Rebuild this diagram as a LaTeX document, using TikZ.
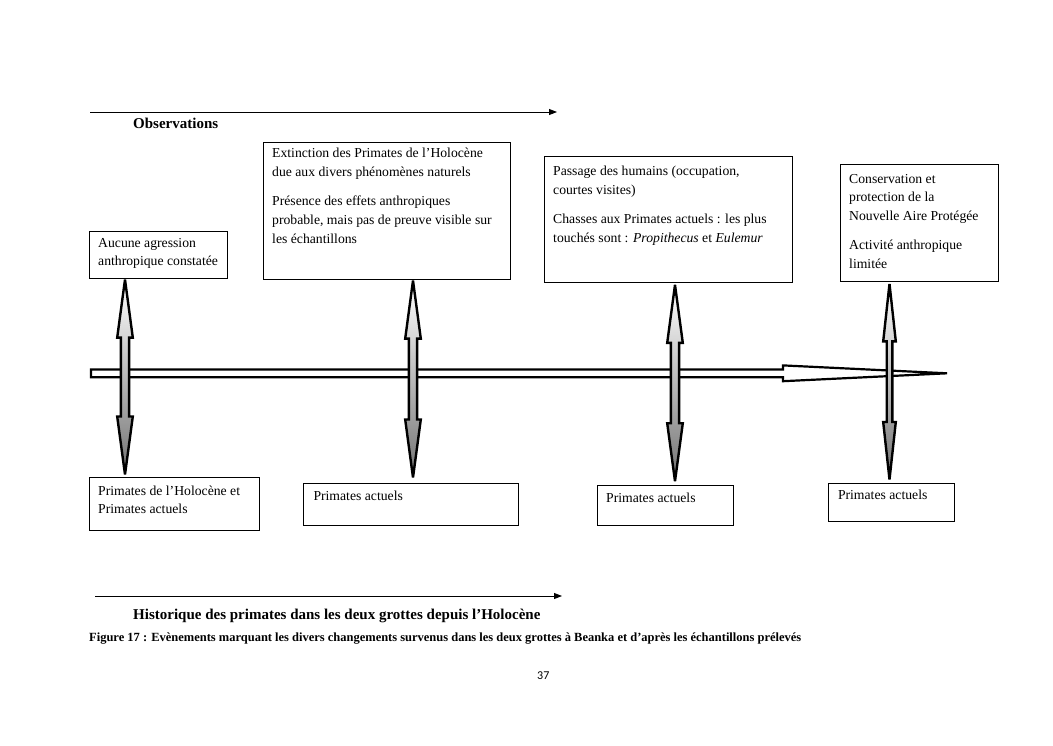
\documentclass[tikz,border=0pt]{standalone}
\usepackage{fontspec}
\usepackage{graphicx}
\setmainfont{Liberation Serif}
\newfontfamily\pagefont{Carlito}
\usetikzlibrary{calc,arrows.meta}

\newcommand\dblarr[5]{% #1 top vertex, #2 bottom vertex, #3 head half width, #4 shaft half width, #5 head length
  \path[dbl] (#1) -- ++(#3,#5) -- ++(#4-#3,0) -- ($(#2)+(#4,-#5)$) -- ++(#3-#4,0) -- (#2)
     -- ++(-#3,-#5) -- ++(#3-#4,0) -- ($(#1)+(-#4,#5)$) -- ++(#4-#3,0) -- cycle;}
\newcommand\bt[1]{\parbox[t]{300pt}{\fontsize{13.7}{18.7}\selectfont\raggedright #1}}

\begin{document}
\begin{tikzpicture}[x=1pt,y=-1pt,
  box/.style={draw, line width=1.1pt, anchor=north west, inner sep=0pt},
  btext/.style={anchor=base west, inner sep=0pt},
  dbl/.style={draw, line width=2.4pt, top color=white, bottom color=black!55, line join=miter, miter limit=4},
  timeline/.style={draw, line width=2.2pt, fill=white, line join=miter},
  headarr/.style={line width=0.9pt, -{Triangle[length=8pt,width=6pt]}},
  heading/.style={anchor=base west, inner sep=0pt, font=\fontsize{15}{17}\selectfont\bfseries}
]
\fill[white] (0,0) rectangle (1053,745);
\useasboundingbox (0,0) rectangle (1053,745);

% heading arrows
\coordinate (o1) at (90,112);
\coordinate (o2) at (557,112);
\draw[headarr] (o1) -- (o2);
\node[heading] (obs) at (133,128) {Observations};

\coordinate (h1) at (95,596);
\coordinate (h2) at (562,596);
\draw[headarr] (h1) -- (h2);
\node[heading] (hist) at (133,619) {Historique des primates dans les deux grottes depuis l’Holocène};

% top boxes
\node[box, minimum width=138pt, minimum height=47pt] (A) at (89,230.5) {};
\node[btext] (tA) at ($(A.north west)+(9,16.5)$) {\bt{Aucune agression\\anthropique constatée}};

\node[box, minimum width=247pt, minimum height=137pt] (B) at (262.5,141.5) {};
\node[btext] (tB) at ($(B.north west)+(9.5,16.3)$) {\bt{Extinction des Primates de l’Holocène\\due aux divers phénomènes naturels\\[10.5pt]Présence des effets anthropiques\\probable, mais pas de preuve visible sur\\les échantillons}};

\node[box, minimum width=248pt, minimum height=126pt] (C) at (544,156) {};
\node[btext] (tC) at ($(C.north west)+(9,19.5)$) {\bt{Passage des humains (occupation,\\courtes visites)\\[10.5pt]Chasses aux Primates actuels : les plus\\touchés sont : \textit{Propithecus} et \textit{Eulemur}}};

\node[box, minimum width=158pt, minimum height=117pt] (D) at (839.5,164) {};
\node[btext] (tD) at ($(D.north west)+(9.5,19.2)$) {\bt{Conservation et\\protection de la\\Nouvelle Aire Protégée\\[10.5pt]Activité anthropique\\limitée}};

% bottom boxes
\node[box, minimum width=170pt, minimum height=53pt] (E) at (88.5,477.3) {};
\node[btext] (tE) at ($(E.north west)+(9.5,17.7)$) {\bt{Primates de l’Holocène et\\Primates actuels}};

\node[box, minimum width=215pt, minimum height=42pt] (F) at (303.3,483.3) {};
\node[btext] (tF) at ($(F.north west)+(10,17.4)$) {\bt{Primates actuels}};

\node[box, minimum width=136pt, minimum height=40pt] (G) at (596.5,485) {};
\node[btext] (tG) at ($(G.north west)+(9.5,17.3)$) {\bt{Primates actuels}};

\node[box, minimum width=126pt, minimum height=38pt] (H) at (828.3,483) {};
\node[btext] (tH) at ($(H.north west)+(9.5,16.8)$) {\bt{Primates actuels}};

% timeline
\coordinate (tl0) at (91,373.3);
\coordinate (tl1) at (947,373.3);
\path[timeline] ($(tl0)+(0,-3.9)$) -- ($(tl0)+(692,-3.9)$) -- ($(tl0)+(692,-7.9)$) -- (tl1)
   -- ($(tl0)+(692,7.9)$) -- ($(tl0)+(692,3.9)$) -- ($(tl0)+(0,3.9)$) -- cycle;

% vertical double arrows
\coordinate (At) at ($(125,0 |- A.south)+(0,1)$);
\coordinate (Ab) at ($(125,0 |- E.north)+(0,-2.8)$);
\coordinate (Bt) at ($(413,0 |- B.south)+(0,1)$);
\coordinate (Bb) at ($(413,0 |- F.north)+(0,-5.8)$);
\coordinate (Ct) at ($(675,0 |- C.south)+(0,1.8)$);
\coordinate (Cb) at ($(675,0 |- G.north)+(0,-3.8)$);
\coordinate (Dt) at ($(889.5,0 |- D.south)+(0,1.8)$);
\coordinate (Db) at ($(889.5,0 |- H.north)+(0,-3.5)$);
\dblarr{At}{Ab}{7.8}{4.1}{58}
\dblarr{Bt}{Bb}{7.8}{4.1}{58}
\dblarr{Ct}{Cb}{7.8}{4.1}{58}
\dblarr{Dt}{Db}{6.3}{2.8}{57.5}

% caption and page number
\node[anchor=base west, inner sep=0pt] (cap) at (89,641) {\resizebox{712pt}{!}{\fontsize{11}{13}\selectfont\bfseries Figure 17 : Evènements marquant les divers changements survenus dans les deux grottes à Beanka et d’après les échantillons prélevés}};
\node[anchor=base west, inner sep=0pt, font=\pagefont\fontsize{12}{14}\selectfont] (pg) at (537,679) {37};
\end{tikzpicture}
\end{document}
